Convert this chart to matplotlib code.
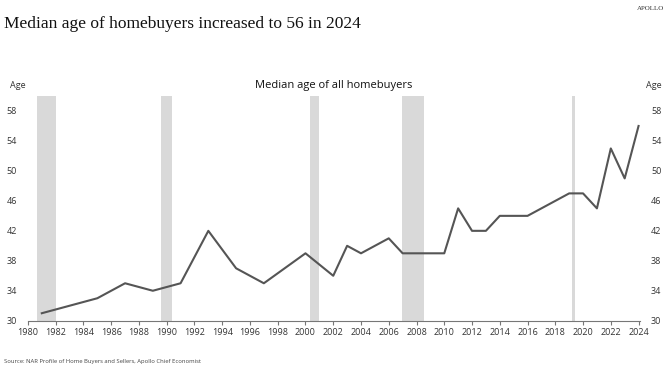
import matplotlib
matplotlib.use("Agg")
import matplotlib.pyplot as plt

years = [1981, 1985, 1987, 1989, 1991, 1993, 1995, 1997, 2000, 2002, 2003, 2004,
         2006, 2007, 2008, 2009, 2010, 2011, 2012, 2013, 2014, 2015, 2016, 2017,
         2018, 2019, 2020, 2021, 2022, 2023, 2024]
ages = [31, 33, 35, 34, 35, 42, 37, 35, 39, 36, 40, 39,
        41, 39, 39, 39, 39, 45, 42, 42, 44, 44, 44, 45,
        46, 47, 47, 45, 53, 49, 56]

# recession shading (start, end) as drawn
recessions = [(1980.63, 1982.0), (1989.6, 1990.35), (2000.3, 2001.0),
              (2006.95, 2008.55), (2019.2, 2019.45)]

xticks = list(range(1980, 2025, 2))
yticks = [30, 34, 38, 42, 46, 50, 54, 58]

plt.rcParams['font.family'] = ['Open Sans', 'DejaVu Sans']

fig = plt.figure(figsize=(6.68, 3.70), dpi=100)
ax = fig.add_axes([0.0418, 0.1332, 0.9162, 0.6073])

for a, b in recessions:
    ax.axvspan(a, b, color='#d9d9d9', lw=0, zorder=1)

ax.plot(years, ages, color='#555555', lw=1.5, zorder=3)

ax.set_xlim(1980, 2024.1)
ax.set_ylim(30, 60)
ax.set_xticks(xticks)
ax.set_yticks(yticks)
ax.tick_params(axis='x', labelsize=6.5, length=3, color='#777777', labelcolor='#333333', pad=2)
ax.tick_params(axis='y', labelsize=6.5, length=0, labelcolor='#333333',
               left=False, right=False, labelleft=True, labelright=True, pad=8)
for s in ['top', 'left', 'right']:
    ax.spines[s].set_visible(False)
ax.spines['bottom'].set_color('#777777')
ax.spines['bottom'].set_linewidth(0.8)

fig.text(0.006, 0.935, "Median age of homebuyers increased to 56 in 2024",
         family='Liberation Serif', fontsize=12.5, color='#111111', va='center')
fig.text(0.995, 0.985, "APOLLO", family='Liberation Serif', fontsize=5,
         ha='right', va='top', color='#333333')
fig.text(0.5, 0.77, "Median age of all homebuyers", fontsize=8, ha='center',
         va='center', color='#111111')
fig.text(0.015, 0.77, "Age", fontsize=6.5, ha='left', va='center', color='#333333')
fig.text(0.99, 0.77, "Age", fontsize=6.5, ha='right', va='center', color='#333333')
fig.text(0.006, 0.015, "Source: NAR Profile of Home Buyers and Sellers, Apollo Chief Economist",
         fontsize=4.2, ha='left', va='bottom', color='#444444')

fig.savefig("out.png", dpi=100)
